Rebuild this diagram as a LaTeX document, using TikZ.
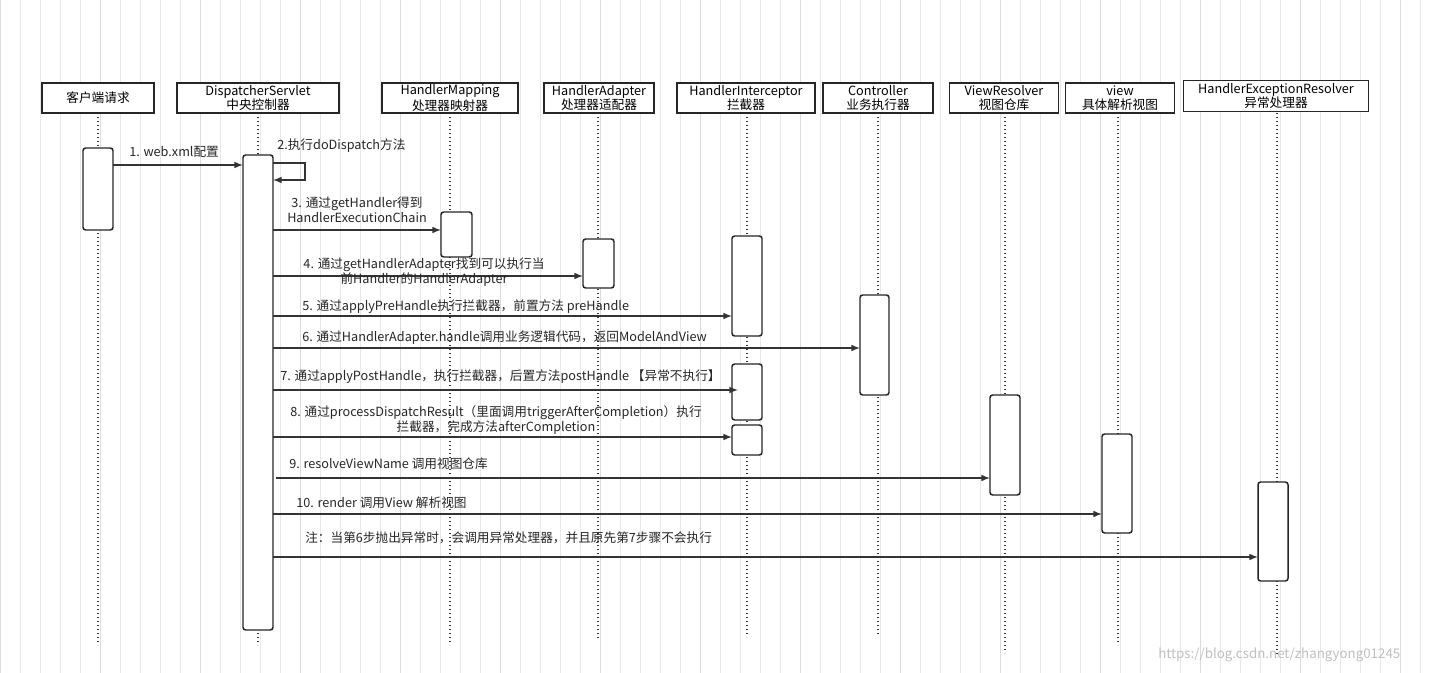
\documentclass[tikz,border=0pt]{standalone}
\usepackage{fontspec}
\setmainfont{Noto Sans CJK SC}
\begin{document}
\begin{tikzpicture}[x=0.75pt,y=-0.75pt,
  hd/.style={draw=black!85,line width=1.2pt,fill=white,align=center,inner sep=0pt,font=\fontsize{9.5}{10}\selectfont},
  act/.style={draw=black!85,line width=1.1pt,fill=white,rounded corners=2pt},
  life/.style={dotted,line width=1pt,black!80},
  msg/.style={line width=1.2pt,black!80,-{latex}},
  lb/.style={font=\fontsize{9.5}{11}\selectfont,inner sep=0pt,anchor=west,text=black!85}]
\useasboundingbox (0,0) rectangle (1438,673);
\fill[white] (0,0) rectangle (1438,673);
\draw[black!9,line width=0.4pt,step=20] (0,0) grid (1438,673);
\draw[black!14,line width=0.6pt,step=100] (0,0) grid (1438,673);
% lifelines
\foreach \x/\e in {98/645,258/645,450/645,598/640,747/637,878/635,1005/653,1118/645,1277/657}
  \draw[life] (\x,113) -- (\x,\e);
% headers
\node[hd,minimum width={112*0.75pt},minimum height={30*0.75pt}] (c) at (98,98) {客户端请求};
\node[hd,minimum width={162*0.75pt},minimum height={30*0.75pt}] (ds) at (258,98) {DispatcherServlet\\中央控制器};
\node[hd,minimum width={136*0.75pt},minimum height={30*0.75pt}] (hm) at (450,98) {HandlerMapping\\处理器映射器};
\node[hd,minimum width={110*0.75pt},minimum height={30*0.75pt}] (ha) at (599,98) {HandlerAdapter\\处理器适配器};
\node[hd,minimum width={138*0.75pt},minimum height={30*0.75pt}] (hi) at (746,98) {HandlerInterceptor\\拦截器};
\node[hd,minimum width={110*0.75pt},minimum height={30*0.75pt}] (ct) at (878,98) {Controller\\业务执行器};
\node[hd,minimum width={109*0.75pt},minimum height={30*0.75pt}] (vr) at (1004,98) {ViewResolver\\视图仓库};
\node[hd,minimum width={109*0.75pt},minimum height={30*0.75pt}] (vw) at (1120,98) {view\\具体解析视图};
\node[hd,minimum width={185*0.75pt},minimum height={31*0.75pt}] (he) at (1276,96) {HandlerExceptionResolver\\异常处理器};
% activations
\draw[act] (83,148) rectangle (113,230);
\draw[act] (243,155) rectangle (273,630);
\draw[act] (441,212) rectangle (472,257);
\draw[act] (583,239) rectangle (614,288);
\draw[act] (732,236) rectangle (762,336);
\draw[act] (732,364) rectangle (762,420);
\draw[act] (732,425) rectangle (762,455);
\draw[act] (860,295) rectangle (889,395);
\draw[act] (990,395) rectangle (1020,495);
\draw[act] (1102,434) rectangle (1132,533);
\draw[act] (1258,482) rectangle (1288,581);
% coordinates
\coordinate (a1s) at (113,165); \coordinate (a1e) at (243,165);
\coordinate (s0) at (273,163); \coordinate (s1) at (305,163); \coordinate (s2) at (305,180); \coordinate (s3) at (273,180);
\coordinate (a3s) at (273,230); \coordinate (a3e) at (441,230);
\coordinate (a4s) at (273,276); \coordinate (a4e) at (583,276);
\coordinate (a5s) at (273,316); \coordinate (a5e) at (732,316);
\coordinate (a6s) at (273,348); \coordinate (a6e) at (860,348);
\coordinate (a7s) at (273,390); \coordinate (a7e) at (738,390);
\coordinate (a8s) at (273,437); \coordinate (a8e) at (732,437);
\coordinate (a9s) at (276,478); \coordinate (a9e) at (990,478);
\coordinate (a10s) at (273,514); \coordinate (a10e) at (1102,514);
\coordinate (a11s) at (273,557); \coordinate (a11e) at (1258,557);
\draw[msg] (a1s) -- (a1e);
\draw[msg] (s0) -- (s1) -- (s2) -- (s3);
\foreach \n in {3,4,5,6,7,8,9,10,11} \draw[msg] (a\n s) -- (a\n e);
% labels
\node[lb] at (129,152) {1. web.xml配置};
\node[lb] at (277,146) {2.执行doDispatch方法};
\node[lb,align=center,anchor=center] at (357,210) {3. 通过getHandler得到\\HandlerExecutionChain};
\node[lb,align=center,anchor=center] at (424,272) {4. 通过getHandlerAdapter找到可以执行当\\前Handler的HandlerAdapter};
\node[lb] at (302,307) {5. 通过applyPreHandle执行拦截器，前置方法 preHandle};
\node[lb] at (302,338) {6. 通过HandlerAdapter.handle调用业务逻辑代码，返回ModelAndView};
\node[lb] at (280,377) {7. 通过applyPostHandle，执行拦截器，后置方法postHandle 【异常不执行】};
\node[lb,align=center,anchor=center] at (496,420) {8. 通过processDispatchResult（里面调用triggerAfterCompletion）执行\\拦截器，完成方法afterCompletion};
\node[lb] at (289,464) {9. resolveViewName 调用视图仓库};
\node[lb] at (296,503) {10. render 调用View 解析视图};
\node[lb] at (305,538) {注：当第6步抛出异常时，会调用异常处理器，并且原先第7步骤不会执行};
\node[lb,text=black!25,font=\fontsize{10}{11}\selectfont] at (1158,655) {https://blog.csdn.net/zhangyong01245};
\end{tikzpicture}
\end{document}
